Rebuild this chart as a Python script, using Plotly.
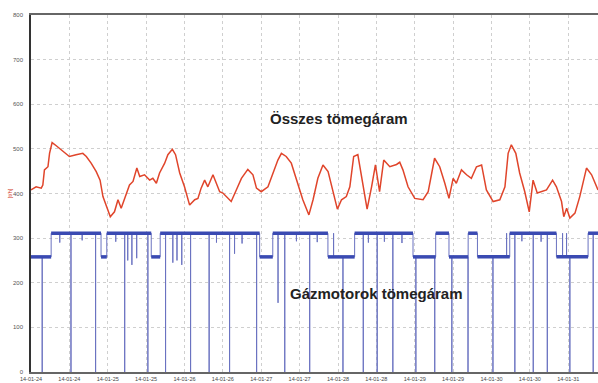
import pandas as pd
import plotly.graph_objects as go

# Time axis: hours after 2014-01-24 00:00
START = pd.Timestamp("2014-01-24 00:00")
X_END_HOURS = 177.3

# Total mass flow (Összes tömegáram), t/h
total_hours = [0.0, 1.6, 3.2, 3.7, 4.2, 5.3, 5.8, 6.6, 7.9, 10.0, 12.0, 14.1, 16.2, 17.3,
               18.8, 20.4, 21.6, 22.5, 23.5, 24.8, 26.1, 27.2, 28.2, 29.8, 30.8, 31.9,
               33.1, 34.0, 35.5, 37.1, 38.1, 39.2, 40.2, 41.8, 42.8, 44.2, 45.2, 46.5,
               48.0, 49.6, 51.2, 52.2, 53.2, 54.3, 55.3, 56.9, 58.0, 59.0, 60.0, 62.6,
               64.2, 65.8, 67.8, 69.4, 70.5, 72.0, 74.1, 75.7, 77.2, 78.3, 79.8, 81.4,
               83.5, 85.0, 86.9, 88.2, 89.7, 91.3, 92.9, 94.4, 95.8, 97.1, 98.6, 99.7,
               100.9, 102.2, 103.6, 105.1, 106.5, 107.7, 109.0, 110.3, 112.2, 114.3,
               115.3, 116.3, 117.9, 120.0, 122.6, 124.2, 126.2, 127.8, 129.4, 130.7,
               132.0, 133.0, 134.6, 136.2, 137.7, 139.3, 140.9, 142.4, 144.5, 146.6,
               148.2, 149.2, 150.2, 151.6, 152.8, 154.4, 155.8, 157.0, 158.3, 159.6,
               161.2, 163.1, 164.3, 165.9, 166.6, 167.5, 168.5, 170.1, 171.6, 173.7,
               175.3, 177.3]
total_tph = [408, 415, 412, 419, 453, 460, 490, 514, 507, 494, 483, 487, 490, 483,
             468, 449, 430, 393, 374, 348, 359, 386, 367, 401, 419, 427,
             457, 438, 442, 430, 434, 423, 446, 468, 487, 499, 487, 446,
             415, 374, 386, 389, 412, 430, 415, 442, 423, 404, 401, 382,
             408, 434, 454, 442, 412, 404, 415, 446, 475, 490, 483, 468,
             423, 386, 352, 386, 434, 464, 449, 408, 365, 386, 393, 415,
             483, 487, 423, 365, 415, 464, 404, 475, 460, 465,
             470, 453, 415, 389, 386, 404, 479, 460, 423, 389,
             434, 423, 453, 442, 434, 460, 464, 408, 382, 386,
             415, 490, 509, 490, 446, 404, 359, 430, 401, 404,
             408, 430, 415, 382, 348, 367, 345, 356, 393, 457,
             442, 408]

# Gas engine mass flow (Gázmotorok tömegáram): operating levels ...
engine_seg_start = [0.0, 6.3, 21.9, 23.7, 37.6, 40.4, 71.5, 75.6, 92.85, 101.2,
                    119.45, 126.55, 130.7, 136.7, 139.6, 149.7, 164.3, 174.2]
engine_seg_tph = [258, 311, 258, 311, 258, 311, 258, 311, 258, 311,
                  258, 311, 258, 311, 258, 311, 258, 311]
# ... and short excursions (trips to zero, partial dips, brief jumps)
engine_dip_hours = [3.5, 9.0, 12.5, 16.0, 20.2, 26.5, 29.3, 30.25, 31.55, 33.05,
                    36.55, 42.08, 44.35, 45.65, 47.15, 49.9, 55.7, 58.0, 62.1, 63.65,
                    66.0, 70.55, 77.25, 79.35, 83.0, 87.15, 89.5, 94.62, 97.55, 103.9,
                    105.5, 108.25, 110.5, 113.15, 116.0, 120.35, 126.25, 131.6, 136.65,
                    144.45, 148.72, 151.3, 153.5, 157.05, 159.5, 161.45, 166.22, 167.47,
                    168.5, 175.8]
engine_dip_tph = [0, 290, 0, 295, 0, 292, 0, 250, 240, 255,
                  0, 0, 245, 250, 240, 0, 0, 290, 0, 265,
                  288, 0, 155, 0, 293, 0, 291, 311, 0, 0,
                  290, 0, 292, 0, 289, 0, 0, 0, 0,
                  0, 311, 0, 293, 0, 292, 0, 311, 311,
                  0, 0]

y_ticks = [0, 100, 200, 300, 400, 500, 600, 700, 800]


def to_time(hours):
    return [None if h is None else START + pd.Timedelta(hours=h) for h in hours]


def level_at(h):
    lvl = engine_seg_tph[0]
    for s, v in zip(engine_seg_start, engine_seg_tph):
        if s <= h:
            lvl = v
    return lvl


# Full engine series: level steps plus each excursion as a vertical spike
events = []
for i, (s, v) in enumerate(zip(engine_seg_start, engine_seg_tph)):
    if i > 0:
        events.append((s, [engine_seg_tph[i - 1], v]))
    else:
        events.append((s, [v]))
for h, v in zip(engine_dip_hours, engine_dip_tph):
    lvl = level_at(h)
    events.append((h, [lvl, v, lvl]))
events.sort(key=lambda e: e[0])
eng_h, eng_v = [], []
for h, vals in events:
    for v in vals:
        eng_h.append(h)
        eng_v.append(v)
eng_h.append(X_END_HOURS)
eng_v.append(engine_seg_tph[-1])

# Plateau band (levels only, no vertical joins), drawn thicker on top
band_h, band_v = [], []
seg_ends = engine_seg_start[1:] + [X_END_HOURS]
for s, e, v in zip(engine_seg_start, seg_ends, engine_seg_tph):
    band_h += [s, e, None]
    band_v += [v, v, None]

fig = go.Figure()
fig.add_trace(go.Scatter(x=to_time(eng_h), y=eng_v, mode="lines",
                         line=dict(color="#6a72c0", width=1), hoverinfo="skip"))
fig.add_trace(go.Scatter(x=to_time(band_h), y=band_v, mode="lines", connectgaps=False,
                         line=dict(color="#3a4ab2", width=3.5), hoverinfo="skip"))
fig.add_trace(go.Scatter(x=to_time(total_hours), y=total_tph, mode="lines",
                         line=dict(color="#e0452b", width=1.5), hoverinfo="skip"))

fig.add_annotation(x=START + pd.Timedelta(hours=96.4), y=569, xref="x", yref="y",
                   text="<b>Összes tömegáram</b>", showarrow=False,
                   font=dict(family="Liberation Sans, Arial", size=15, color="#222222"))
fig.add_annotation(x=START + pd.Timedelta(hours=108.1), y=175, xref="x", yref="y",
                   text="<b>Gázmotorok tömegáram</b>", showarrow=False,
                   font=dict(family="Liberation Sans, Arial", size=15, color="#222222"))
fig.add_annotation(x=0, y=0.5, xref="paper", yref="paper", xanchor="right",
                   yanchor="middle", xshift=-17, textangle=-90, text="[t/h]",
                   showarrow=False,
                   font=dict(family="Liberation Sans, Arial", size=6, color="#d0402a"))

fig.update_layout(
    width=598, height=383,
    margin=dict(l=31, r=0, t=15, b=11),
    paper_bgcolor="white", plot_bgcolor="white",
    showlegend=False,
    font=dict(family="Liberation Sans, Arial", color="#555555"),
)
fig.update_xaxes(
    type="date",
    range=[START, START + pd.Timedelta(hours=X_END_HOURS)],
    tick0=START, dtick=12 * 3600 * 1000, tickformat="%y-%m-%d",
    tickfont=dict(size=5.5, color="#444444"), ticks="", ticklabelstandoff=1,
    showgrid=True, gridcolor="#cfcfcf", griddash="dot", gridwidth=1,
    showline=True, linecolor="#666666", linewidth=1.5, mirror=True,
    zeroline=False,
)
fig.update_yaxes(
    range=[0, 800], tickvals=y_ticks,
    tickfont=dict(size=6, color="#555555"), ticks="", ticklabelstandoff=5,
    showgrid=True, gridcolor="#cfcfcf", griddash="dot", gridwidth=1,
    showline=True, linecolor="#333333", linewidth=1.5,
    zeroline=False,
)

fig.write_html("out.html")
